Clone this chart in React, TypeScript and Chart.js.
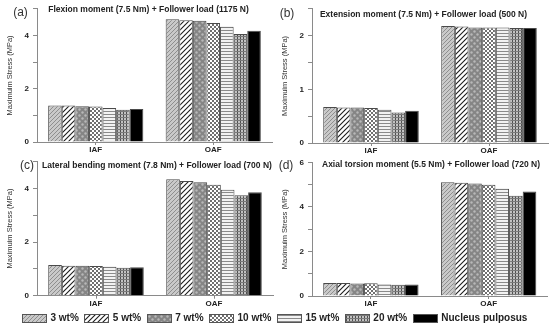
import React, { useEffect, useRef } from 'react';
import { Chart, registerables } from 'chart.js';

Chart.register(...registerables);

// ---------- data ----------
const categories = ['IAF', 'OAF'];
const materials = ['3 wt%', '5 wt%', '7 wt%', '10 wt%', '15 wt%', '20 wt%', 'Nucleus pulposus'];

const flexionIAF = [1.37, 1.37, 1.34, 1.33, 1.28, 1.21, 1.24];
const flexionOAF = [4.61, 4.57, 4.55, 4.47, 4.33, 4.05, 4.18];

const extensionIAF = [0.67, 0.66, 0.66, 0.65, 0.62, 0.57, 0.6];
const extensionOAF = [2.18, 2.17, 2.15, 2.15, 2.15, 2.14, 2.14];

const lateralIAF = [1.14, 1.12, 1.12, 1.11, 1.08, 1.04, 1.06];
const lateralOAF = [4.34, 4.27, 4.23, 4.13, 3.95, 3.74, 3.85];

const torsionIAF = [0.58, 0.58, 0.56, 0.57, 0.52, 0.5, 0.52];
const torsionOAF = [5.1, 5.08, 5.05, 4.99, 4.81, 4.5, 4.69];

const panelTitles = [
  'Flexion moment (7.5 Nm) + Follower load (1175 N)',
  'Extension moment (7.5 Nm) + Follower load (500 N)',
  'Lateral bending moment (7.8 Nm) + Follower load (700 N)',
  'Axial torsion moment (5.5 Nm) + Follower load (720 N)',
];
const panelLetters = ['(a)', '(b)', '(c)', '(d)'];
const yAxisTitle = 'Maximuim Stress (MPa)';
const yMax = [5, 2.5, 5, 6];
const yStep = [1, 0.5, 1, 1];
const yLabelStep = [2, 1, 2, 2];

// ---------- patterns ----------
type Kind = 'diagGray' | 'diagWhite' | 'dots' | 'checker' | 'hlines' | 'grid' | 'solid';
const kinds: Kind[] = ['diagGray', 'diagWhite', 'dots', 'checker', 'hlines', 'grid', 'solid'];

function makeTile(kind: Kind): HTMLCanvasElement {
  const c = document.createElement('canvas');
  let s = 4;
  if (kind === 'diagWhite') s = 5;
  if (kind === 'dots') s = 6;
  if (kind === 'hlines') s = 3;
  if (kind === 'grid') s = 3;
  c.width = s;
  c.height = s;
  const g = c.getContext('2d')!;
  const diag = (color: string, w: number) => {
    g.strokeStyle = color;
    g.lineWidth = w;
    for (const o of [-s, 0, s]) {
      g.beginPath();
      g.moveTo(o - 1, s + 1);
      g.lineTo(o + s + 1, -1);
      g.stroke();
    }
  };
  switch (kind) {
    case 'diagGray':
      g.fillStyle = '#c9c9c9';
      g.fillRect(0, 0, s, s);
      diag('#8e8e8e', 1);
      break;
    case 'diagWhite':
      g.fillStyle = '#ffffff';
      g.fillRect(0, 0, s, s);
      diag('#1a1a1a', 1.1);
      break;
    case 'dots':
      g.fillStyle = '#858585';
      g.fillRect(0, 0, s, s);
      g.fillStyle = '#b8b8b8';
      g.beginPath();
      g.arc(1.5, 1.5, 1.2, 0, Math.PI * 2);
      g.fill();
      g.beginPath();
      g.arc(4.5, 4.5, 1.2, 0, Math.PI * 2);
      g.fill();
      break;
    case 'checker':
      g.fillStyle = '#ffffff';
      g.fillRect(0, 0, s, s);
      g.fillStyle = '#707070';
      g.fillRect(0, 0, 2, 2);
      g.fillRect(2, 2, 2, 2);
      break;
    case 'hlines':
      g.fillStyle = '#f2f2f2';
      g.fillRect(0, 0, s, s);
      g.fillStyle = '#8a8a8a';
      g.fillRect(0, 0, s, 1);
      break;
    case 'grid':
      g.fillStyle = '#c2c2c2';
      g.fillRect(0, 0, s, s);
      g.fillStyle = '#505050';
      g.fillRect(0, 0, 1, s);
      g.fillStyle = '#7a7a7a';
      g.fillRect(0, 0, s, 1);
      break;
    case 'solid':
      g.fillStyle = '#000000';
      g.fillRect(0, 0, s, s);
      break;
  }
  return c;
}

const tiles = kinds.map((k) => makeTile(k));

// ---------- chart panel ----------
type Geo = {
  left: number;
  top: number;
  w: number;
  h: number;
  padTop: number;
  padRight: number;
  yWidth: number;
  xHeight: number;
};

const FONT = '"Liberation Sans", Arial, sans-serif';

function Panel(props: {
  iaf: number[];
  oaf: number[];
  idx: number;
  geo: Geo;
}) {
  const ref = useRef<HTMLCanvasElement>(null);
  const { iaf, oaf, idx, geo } = props;
  useEffect(() => {
    const canvas = ref.current!;
    const ctx = canvas.getContext('2d')!;
    const labelStep = yLabelStep[idx];
    const chart = new Chart(ctx, {
      type: 'bar',
      data: {
        labels: categories,
        datasets: materials.map((m, i) => ({
          label: m,
          data: [iaf[i], oaf[i]],
          backgroundColor: ctx.createPattern(tiles[i], 'repeat') as any,
          borderColor: '#4a4a4a',
          borderWidth: 1,
          categoryPercentage: 0.81,
          barPercentage: 1,
        })),
      },
      options: {
        responsive: false,
        animation: false,
        devicePixelRatio: 1,
        layout: { padding: { top: geo.padTop, right: geo.padRight, left: 0, bottom: 0 } },
        plugins: {
          legend: { display: false },
          tooltip: { enabled: false },
          title: { display: false },
        },
        scales: {
          x: {
            offset: true,
            grid: {
              offset: false,
              drawOnChartArea: false,
              drawTicks: true,
              tickLength: 3,
              color: '#8a8a8a',
            },
            border: { color: '#8a8a8a', width: 1 },
            ticks: {
              color: '#222',
              font: { family: FONT, size: 8, weight: 'bold' },
              padding: 0,
              maxRotation: 0,
            },
            afterFit: (s: any) => {
              s.height = geo.xHeight;
            },
          },
          y: {
            min: 0,
            max: yMax[idx],
            grid: {
              drawOnChartArea: false,
              drawTicks: true,
              tickLength: 4,
              color: '#8a8a8a',
            },
            border: { color: '#8a8a8a', width: 1 },
            ticks: {
              stepSize: yStep[idx],
              color: '#222',
              font: { family: FONT, size: 8, weight: 'bold' },
              padding: 4,
              callback: (v: any) => {
                const r = Number(v) / labelStep;
                return Math.abs(r - Math.round(r)) < 1e-6 ? String(v) : '';
              },
            },
            title: {
              display: true,
              text: yAxisTitle,
              color: '#333',
              font: { family: FONT, size: 7.5 },
              padding: { top: 5, bottom: 0 },
            },
            afterFit: (s: any) => {
              s.width = geo.yWidth;
            },
          },
        },
      } as any,
    });
    return () => chart.destroy();
  }, []);
  return (
    <canvas
      ref={ref}
      width={geo.w}
      height={geo.h}
      style={{ position: 'absolute', left: geo.left, top: geo.top, width: geo.w, height: geo.h }}
    />
  );
}

const geos: Geo[] = [
  { left: 0, top: 0, w: 275, h: 156, padTop: 5, padRight: 3, yWidth: 37, xHeight: 14 },
  { left: 275, top: 0, w: 275, h: 157, padTop: 3, padRight: 2, yWidth: 37, xHeight: 14 },
  { left: 0, top: 150, w: 275, h: 160, padTop: 11.5, padRight: 2, yWidth: 37, xHeight: 14.3 },
  { left: 275, top: 150, w: 275, h: 160, padTop: 12.3, padRight: 2.5, yWidth: 37, xHeight: 14 },
];

const titlePos = [
  [148.5, 9],
  [423.5, 13.7],
  [157, 165.3],
  [431, 164.3],
];
const letterPos = [
  [20.5, 12.3],
  [287, 13],
  [27, 165],
  [286, 165],
];

const panelData = [
  [flexionIAF, flexionOAF],
  [extensionIAF, extensionOAF],
  [lateralIAF, lateralOAF],
  [torsionIAF, torsionOAF],
];

export default function App() {
  return (
    <div
      style={{
        position: 'fixed',
        left: 0,
        top: 0,
        width: 550,
        height: 329,
        background: '#fff',
        overflow: 'hidden',
        fontFamily: FONT,
      }}
    >
      {panelData.map((d, i) => (
        <Panel key={i} iaf={d[0]} oaf={d[1]} idx={i} geo={geos[i]} />
      ))}
      {panelTitles.map((t, i) => (
        <div
          key={'t' + i}
          style={{
            position: 'absolute',
            left: titlePos[i][0],
            top: titlePos[i][1],
            transform: 'translate(-50%, -50%)',
            whiteSpace: 'nowrap',
            fontSize: 8.5,
            fontWeight: 'bold',
            color: '#222',
            lineHeight: 1,
          }}
        >
          {t}
        </div>
      ))}
      {panelLetters.map((t, i) => (
        <div
          key={'l' + i}
          style={{
            position: 'absolute',
            left: letterPos[i][0],
            top: letterPos[i][1],
            transform: 'translate(-50%, -50%)',
            whiteSpace: 'nowrap',
            fontSize: 12,
            color: '#333',
            lineHeight: 1,
          }}
        >
          {t}
        </div>
      ))}
      <div
        style={{
          position: 'absolute',
          left: 22,
          top: 312,
          height: 12,
          display: 'flex',
          alignItems: 'center',
          whiteSpace: 'nowrap',
        }}
      >
        {materials.map((m, i) => (
          <div key={m} style={{ display: 'flex', alignItems: 'center', marginRight: 5.5 }}>
            <div
              style={{
                width: 23,
                height: 7,
                border: '1px solid #555',
                backgroundImage: `url(${tiles[i].toDataURL()})`,
                backgroundRepeat: 'repeat',
              }}
            />
            <span
              style={{
                marginLeft: 3.5,
                fontSize: 10,
                fontWeight: 'bold',
                color: '#222',
                lineHeight: 1,
              }}
            >
              {m}
            </span>
          </div>
        ))}
      </div>
    </div>
  );
}
